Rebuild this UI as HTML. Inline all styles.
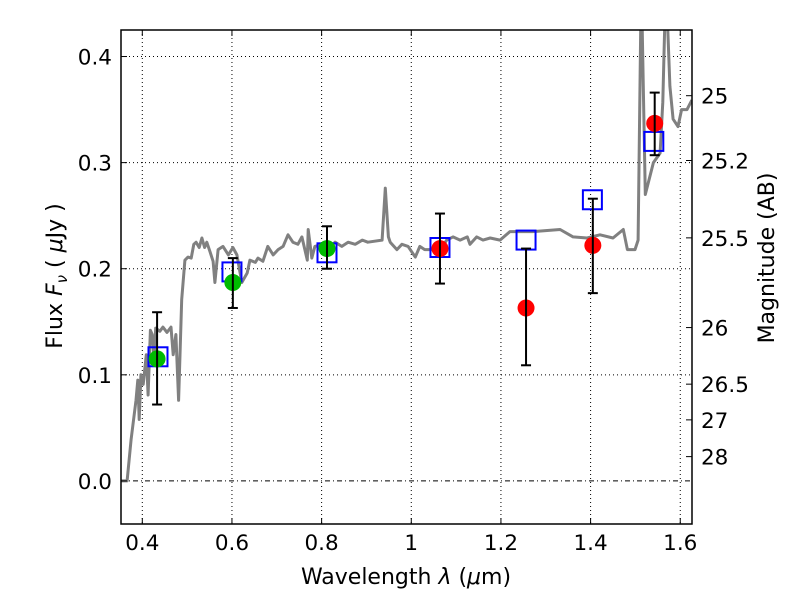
<!DOCTYPE html>
<html><head><meta charset="utf-8"><style>
body{margin:0;background:#fff;}
svg text{font-family:"DejaVu Sans","Liberation Sans",sans-serif;fill:#000;}
</style></head><body>
<svg id="chart" width="800" height="600" xmlns="http://www.w3.org/2000/svg">
<rect width="800" height="600" fill="#fff"/>
<g id="grid"></g>
<g id="spec"></g>
<g id="marks"></g>
<g id="axes"></g>
</svg>
<script>
const specWl=[0.353,0.366,0.375,0.386,0.390,0.393,0.397,0.402,0.409,0.413,0.418,0.422,0.426,0.430,0.439,0.446,0.455,0.464,0.469,0.475,0.481,0.488,0.495,0.502,0.509,0.515,0.520,0.527,0.533,0.539,0.544,0.551,0.558,0.562,0.569,0.580,0.592,0.602,0.611,0.622,0.634,0.640,0.652,0.658,0.669,0.680,0.692,0.703,0.714,0.725,0.736,0.747,0.756,0.768,0.770,0.778,0.785,0.801,0.814,0.830,0.845,0.859,0.875,0.891,0.903,0.935,0.942,0.949,0.953,0.968,0.979,0.993,1.009,1.019,1.030,1.049,1.065,1.079,1.093,1.109,1.125,1.131,1.146,1.160,1.176,1.198,1.220,1.271,1.332,1.361,1.392,1.421,1.450,1.473,1.482,1.499,1.506,1.513,1.522,1.540,1.555,1.561,1.568,1.577,1.584,1.595,1.603,1.615,1.626];
const specFlux=[0.000,0.000,0.039,0.076,0.095,0.058,0.100,0.091,0.119,0.081,0.142,0.138,0.114,0.144,0.141,0.145,0.140,0.145,0.119,0.138,0.076,0.171,0.208,0.211,0.210,0.223,0.225,0.220,0.229,0.220,0.225,0.216,0.207,0.187,0.218,0.221,0.213,0.220,0.213,0.187,0.196,0.208,0.206,0.210,0.207,0.221,0.213,0.218,0.221,0.232,0.225,0.223,0.230,0.208,0.237,0.210,0.221,0.223,0.218,0.225,0.221,0.225,0.223,0.227,0.225,0.227,0.276,0.230,0.225,0.218,0.223,0.221,0.211,0.221,0.218,0.218,0.218,0.227,0.230,0.227,0.230,0.223,0.230,0.227,0.229,0.227,0.235,0.235,0.237,0.230,0.229,0.232,0.229,0.237,0.218,0.218,0.227,0.473,0.270,0.300,0.309,0.357,0.473,0.372,0.341,0.334,0.350,0.350,0.359];
const obsWl=[0.433,0.602,0.812,1.064,1.256,1.405,1.543];
const obsFlux=[0.115,0.187,0.219,0.219,0.163,0.222,0.337];
const obsHi=[0.159,0.210,0.240,0.252,0.219,0.266,0.366];
const obsLo=[0.072,0.163,0.200,0.186,0.109,0.177,0.307];
const obsColor=["#00bb00","#00bb00","#00bb00","#ff0000","#ff0000","#ff0000","#ff0000"];
const modelWl=[0.435,0.600,0.812,1.064,1.256,1.404,1.541];
const modelFlux=[0.117,0.197,0.215,0.220,0.227,0.265,0.320];
const xTicks=[0.4,0.6,0.8,1.0,1.2,1.4,1.6];
const xTickLabels=["0.4","0.6","0.8","1","1.2","1.4","1.6"];
const yTicks=[0.0,0.1,0.2,0.3,0.4];
const yTickLabels=["0.0","0.1","0.2","0.3","0.4"];
const magTicks=[25,25.2,25.5,26,26.5,27,28];
const magTickLabels=["25","25.2","25.5","26","26.5","27","28"];

const L=121,R=692,T=30,B=524;
const X0=0.3525,X1=1.6262,Y0=-0.0406,Y1=0.425;
const sx=v=>L+(v-X0)/(X1-X0)*(R-L);
const sy=v=>B-(v-Y0)/(Y1-Y0)*(B-T);
const NS="http://www.w3.org/2000/svg";
function mk(tag,attrs,parent){const e=document.createElementNS(NS,tag);for(const k in attrs)e.setAttribute(k,attrs[k]);parent.appendChild(e);return e;}
const grid=document.getElementById('grid'),spec=document.getElementById('spec'),marks=document.getElementById('marks'),axes=document.getElementById('axes');
const svg=document.getElementById('chart');
const clip=mk('clipPath',{id:'cp'},svg);mk('rect',{x:L,y:T,width:R-L,height:B-T},clip);

xTicks.forEach((v,i)=>{
  const g=mk('line',{x1:sx(v),x2:sx(v),y1:T,y2:B,stroke:'#000','stroke-width':1,'stroke-dasharray':'1,3'},grid);
  
  
  mk('line',{x1:sx(v),x2:sx(v),y1:B,y2:B-6,stroke:'#000'},axes);
  mk('line',{x1:sx(v),x2:sx(v),y1:T,y2:T+6,stroke:'#000'},axes);
  const t=mk('text',{x:sx(v),y:B+26,'text-anchor':'middle','font-size':21.5},axes);t.textContent=xTickLabels[i];
  
  
});
yTicks.forEach((v,i)=>{
  const g=mk('line',{x1:L,x2:R,y1:sy(v),y2:sy(v),stroke:'#000','stroke-width':1,'stroke-dasharray':v===0?'5,3,1,3':'1,3'},grid);
  
  
  mk('line',{x1:L,x2:L+6,y1:sy(v),y2:sy(v),stroke:'#000'},axes);
  const t=mk('text',{x:L-9,y:sy(v)+8,'text-anchor':'end','font-size':21.5},axes);t.textContent=yTickLabels[i];
  
  
});
magTicks.forEach((m,i)=>{
  const f=Math.pow(10,(23.9-m)/2.5);const y=sy(f);
  mk('line',{x1:R,x2:R-6,y1:y,y2:y,stroke:'#000'},axes);
  const t=mk('text',{x:R+9,y:y+8,'font-size':21.5},axes);t.textContent=magTickLabels[i];
  
  
});
const pts=specWl.map((w,i)=>sx(w).toFixed(1)+','+sy(specFlux[i]).toFixed(1)).join(' ');
const pl=mk('polyline',{points:pts,fill:'none',stroke:'#808080','stroke-width':3,'stroke-linejoin':'round','clip-path':'url(#cp)'},spec);


modelWl.forEach((w,i)=>{
  const r=mk('rect',{x:sx(w)-9.5,y:sy(modelFlux[i])-9.5,width:19,height:19,fill:'none',stroke:'#0000ff','stroke-width':2},marks);
  
  
});
obsWl.forEach((w,i)=>{
  const x=sx(w);
  const c=mk('circle',{cx:x,cy:sy(obsFlux[i]),r:8.5,fill:obsColor[i]},marks);
  
  
  const e=mk('g',{stroke:'#000','stroke-width':2},marks);
  
  
  mk('line',{x1:x,x2:x,y1:sy(obsHi[i]),y2:sy(obsLo[i])},e);
  mk('line',{x1:x-5,x2:x+5,y1:sy(obsHi[i]),y2:sy(obsHi[i])},e);
  mk('line',{x1:x-5,x2:x+5,y1:sy(obsLo[i]),y2:sy(obsLo[i])},e);
});
const fr=mk('rect',{x:L,y:T,width:R-L,height:B-T,fill:'none',stroke:'#000','stroke-width':1.5},axes);


</script>
<svg width="800" height="600" style="position:absolute;left:0;top:0;pointer-events:none" xmlns="http://www.w3.org/2000/svg">
<text x="406" y="584" text-anchor="middle" font-size="22">Wavelength  <tspan font-style="italic">λ</tspan> (<tspan font-style="italic">μ</tspan>m)</text>
<text transform="translate(62,276) rotate(-90)" text-anchor="middle" font-size="22">Flux  <tspan font-style="italic">F</tspan><tspan font-style="italic" font-size="15" dy="5">ν</tspan><tspan dy="-5">  ( </tspan><tspan font-style="italic">μ</tspan>Jy )</text>
<text transform="translate(774,258) rotate(-90)" text-anchor="middle" font-size="22">Magnitude (AB)</text>
</svg>
</body></html>
